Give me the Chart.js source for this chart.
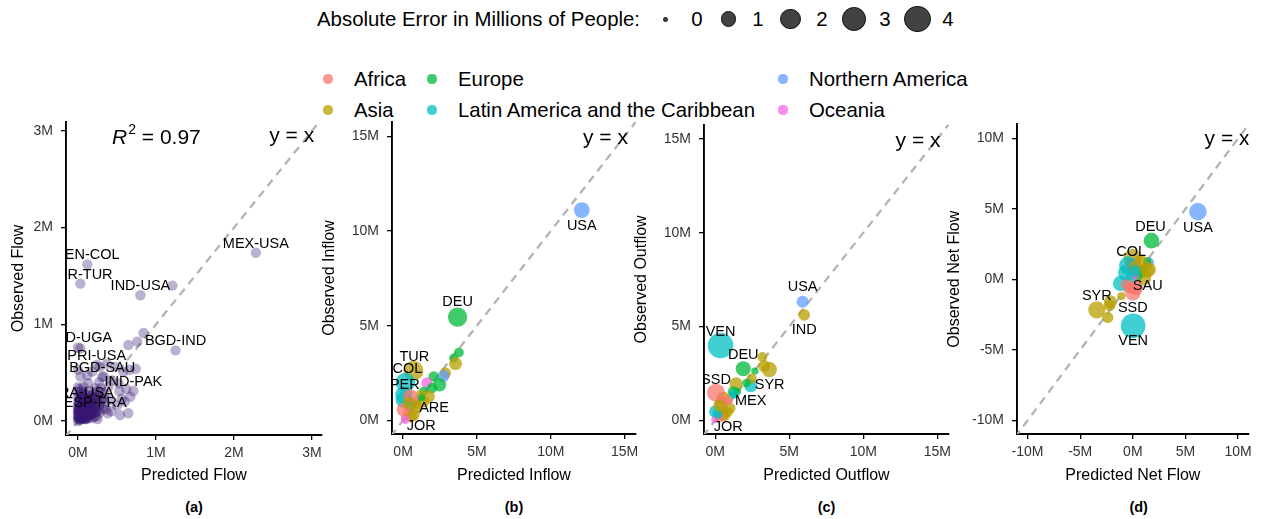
<!DOCTYPE html>
<html>
<head>
<meta charset="utf-8">
<script src="https://cdn.jsdelivr.net/npm/chart.js@4.4.1/dist/chart.umd.min.js"></script>
<style>
  body { margin: 0; width: 1271px; height: 519px; background: #fff; position: relative; overflow: hidden;
         font-family: "Liberation Sans", Arial, sans-serif; }
  canvas { position: absolute; }
  .t { position: absolute; white-space: nowrap; color: #000; }
  .dot { position: absolute; border-radius: 50%; }
</style>
</head>
<body>
<div id="legend"></div>
<canvas id="pa"></canvas>
<canvas id="pb"></canvas>
<canvas id="pc"></canvas>
<canvas id="pd"></canvas>

<script>
// ---- legend data ----
const sizeLegendValues = [0, 1, 2, 3, 4];
const regionNames = ['Africa', 'Asia', 'Europe', 'Latin America and the Caribbean', 'Northern America', 'Oceania'];
const regionKeys = ['AF', 'AS', 'EU', 'LA', 'NA', 'OC'];
const regionColors = ['rgba(248,118,109,0.75)', 'rgba(183,159,0,0.75)', 'rgba(0,186,56,0.75)',
                      'rgba(0,191,196,0.75)', 'rgba(97,156,255,0.75)', 'rgba(245,100,227,0.75)'];

// ---- (a) country-pair flows, millions ----
const flowLabelNames = ['MEX-USA', 'VEN-COL', 'SYR-TUR', 'IND-USA', 'BGD-IND', 'COD-UGA',
                        'PRI-USA', 'BGD-SAU', 'IND-PAK', 'FRA-USA', 'ESP-FRA'];
const flowLabelPred = [2.28, 0.12, 0.03, 0.80, 1.25, 0.00, 0.24, 0.31, 0.71, 0.05, 0.22];
const flowLabelObs  = [1.74, 1.62, 1.42, 1.30, 0.73, 0.76, 0.58, 0.455, 0.31, 0.20, 0.09];
const flowPred = [1.21, 0.84, 0.76, 0.645, 0.03, 0.74, 0.66, 0.58, 0.47, 0.37, 0.28, 0.18, 0.03, 0.00, 0.12,
  0.52, 0.62, 0.53, 0.67, 0.56, 0.54, 0.645, 0.43, 0.32, 0.41, 0.30, 0.22, 0.39, 0.13, 0.07, 0.33, 0.43, 0.50, 0.60, 0.27,
  0.00, 0.01, 0.02, 0.03, 0.04, 0.05, 0.06, 0.07, 0.08, 0.09, 0.10, 0.11, 0.12, 0.13, 0.14, 0.15, 0.16, 0.17, 0.18, 0.19,
  0.20, 0.21, 0.22, 0.23, 0.24, 0.25, 0.26, 0.27, 0.28, 0.30, 0.00, 0.01, 0.02, 0.03, 0.04, 0.05, 0.06, 0.00, 0.01, 0.02,
  0.03, 0.04, 0.05, 0.06, 0.07, 0.08, 0.09, 0.10, 0.11, 0.12, 0.13, 0.14, 0.15, 0.16, 0.17, 0.18, 0.19, 0.20, 0.21, 0.23,
  0.02, 0.04, 0.06, 0.08, 0.10, 0.12, 0.14, 0.16, 0.09, 0.07, 0.05, 0.11, 0.13, 0.15, 0.17, 0.19, 0.21, 0.23, 0.03, 0.01,
  0.00, 0.00, 0.00, 0.00, 0.00, 0.02, 0.06, 0.08, 0.10, 0.12, 0.24, 0.26, 0.28, 0.32, 0.35, 0.34, 0.29, 0.36, 0.38, 0.25];
const flowObs = [1.40, 0.91, 0.82, 0.785, 0.75, 0.54, 0.53, 0.51, 0.56, 0.59, 0.56, 0.51, 0.46, 0.53, 0.47,
  0.39, 0.33, 0.31, 0.25, 0.23, 0.06, 0.08, 0.10, 0.13, 0.22, 0.29, 0.34, 0.355, 0.39, 0.355, 0.46, 0.42, 0.16, 0.20, 0.40,
  0.00, 0.02, 0.01, 0.04, 0.02, 0.06, 0.03, 0.08, 0.05, 0.02, 0.07, 0.10, 0.04, 0.09, 0.12, 0.06, 0.14, 0.10, 0.03, 0.16,
  0.12, 0.08, 0.18, 0.14, 0.05, 0.20, 0.11, 0.16, 0.09, 0.22, 0.05, 0.09, 0.13, 0.17, 0.21, 0.25, 0.29, 0.15, 0.19, 0.23,
  0.27, 0.31, 0.12, 0.16, 0.20, 0.24, 0.28, 0.15, 0.19, 0.23, 0.27, 0.31, 0.18, 0.22, 0.26, 0.20, 0.24, 0.28, 0.25, 0.30,
  0.06, 0.10, 0.11, 0.13, 0.11, 0.14, 0.16, 0.18, 0.09, 0.14, 0.03, 0.06, 0.03, 0.10, 0.06, 0.09, 0.04, 0.10, 0.08, 0.04,
  0.10, 0.20, 0.25, 0.30, 0.35, 0.33, 0.07, 0.17, 0.21, 0.17, 0.24, 0.27, 0.18, 0.24, 0.18, 0.28, 0.34, 0.12, 0.08, 0.02];
// the many small pairs packed near the origin
const flowCorePred = [0.00, 0.01, 0.02, 0.03, 0.04, 0.05, 0.06, 0.07, 0.08, 0.09, 0.10, 0.11, 0.12, 0.13, 0.14,
  0.01, 0.02, 0.03, 0.04, 0.05, 0.06, 0.07, 0.08, 0.09, 0.10, 0.11, 0.12, 0.13, 0.00, 0.02, 0.04, 0.06, 0.08, 0.10,
  0.12, 0.14, 0.03, 0.05, 0.07, 0.09, 0.11, 0.01, 0.03, 0.05, 0.07, 0.09, 0.00, 0.02, 0.04, 0.06, 0.08, 0.10,
  0.15, 0.16, 0.18, 0.20, 0.05, 0.07, 0.09, 0.11];
const flowCoreObs = [0.03, 0.06, 0.09, 0.12, 0.15, 0.18, 0.14, 0.11, 0.08, 0.05, 0.03, 0.13, 0.16, 0.19, 0.07,
  0.14, 0.17, 0.10, 0.07, 0.09, 0.21, 0.04, 0.11, 0.15, 0.18, 0.09, 0.06, 0.12, 0.08, 0.04, 0.05, 0.13, 0.09, 0.13,
  0.10, 0.09, 0.02, 0.10, 0.05, 0.12, 0.15, 0.11, 0.06, 0.15, 0.11, 0.17, 0.12, 0.18, 0.14, 0.19, 0.02, 0.04,
  0.13, 0.08, 0.12, 0.16, 0.08, 0.17, 0.07, 0.02];

// ---- (b) inflow by country, millions ----
const inflowCodes  = ['USA', 'DEU', 'TUR', 'COL', 'PER', '', '', '', '', '', '', '', '', '', '', '', '', '', '',
                      '', '', '', '', '', '', '', '', '', '', 'ARE', 'JOR', ''];
const inflowRegion = ['NA', 'EU', 'AS', 'LA', 'LA', 'EU', 'EU', 'AS', 'AS', 'NA', 'EU', 'EU', 'OC', 'EU', 'EU', 'AS', 'AS',
                      'LA', 'AF', 'AF', 'LA', 'AF', 'AS', 'AS', 'AF', 'AS', 'AF', 'AS', 'EU', 'AS', 'AS', 'OC'];
const inflowPred = [12.1, 3.69, 0.70, 0.16, 0.05, 3.78, 3.42, 3.55, 2.86, 2.74, 2.07, 2.47, 1.62, 1.96, 1.39, 1.73, 1.17,
                    0.04, 0.49, 0.83, 0.49, 0.00, 0.95, 0.72, 0.09, 1.39, 0.30, 0.40, 1.25, 0.95, 0.55, 0.15];
const inflowObs  = [11.1, 5.45, 2.62, 2.00, 1.35, 3.58, 3.29, 3.00, 2.50, 2.34, 2.32, 1.88, 1.97, 1.71, 1.53, 1.26, 1.35,
                    1.09, 1.26, 1.00, 0.74, 0.56, 0.83, 0.30, 0.13, 1.00, 0.45, 0.90, 1.20, 0.65, 0.18, 0.04];

// ---- (c) outflow by country, millions ----
const outflowCodes  = ['USA', 'IND', 'VEN', 'DEU', '', '', '', '', '', '', '', '', '', '', '', '', '', '', '',
                       'SYR', 'SSD', 'MEX', 'JOR', '', '', '', '', ''];
const outflowRegion = ['NA', 'AS', 'LA', 'EU', 'AS', 'AS', 'AS', 'EU', 'LA', 'AS', 'EU', 'AS', 'AF', 'AF', 'AS', 'LA',
                       'OC', 'AF', 'EU', 'AS', 'AF', 'LA', 'AS', 'AS', 'AF', 'LA', 'EU', 'AS'];
const outflowPred = [5.90, 6.01, 0.36, 1.89, 3.18, 3.65, 3.30, 2.68, 2.40, 1.40, 1.22, 0.54, 0.40, 0.54, 0.99, 0.00,
                     0.00, 0.88, 1.50, 2.46, 0.05, 1.25, 0.60, 0.80, 0.30, 0.15, 2.10, 0.30];
const outflowObs  = [6.32, 5.62, 3.99, 2.76, 3.38, 2.71, 2.90, 2.63, 1.85, 1.95, 1.53, 1.18, 0.95, 0.30, 0.65, 0.47,
                     0.07, 1.09, 1.55, 2.23, 1.48, 1.40, 0.25, 0.45, 0.15, 0.35, 2.00, 0.80];

// ---- (d) net flow by country, millions ----
const netCodes  = ['USA', 'DEU', '', '', '', '', '', '', '', '', '', '', '', '', '', '', '', '', '', '', '', '', '',
                   'COL', 'SAU', 'SSD', 'SYR', 'VEN', '', ''];
const netRegion = ['NA', 'EU', 'AS', 'AS', 'AS', 'AS', 'NA', 'EU', 'AS', 'AS', 'AS', 'LA', 'LA', 'LA', 'AF', 'AF', 'AF',
                   'AF', 'AF', 'EU', 'EU', 'AS', 'OC', 'LA', 'AS', 'AF', 'AS', 'LA', 'AS', 'LA'];
const netPred = [6.18, 1.77, -2.13, -2.20, -2.38, -1.08, 1.50, 1.38, 0.72, 1.02, 0.00, -1.17, -0.63, -0.18, -0.03, 0.41,
                 -0.63, 0.27, -0.20, 0.50, 0.90, 1.50, 0.20, -0.45, 1.32, 0.00, -3.42, 0.03, 0.30, 0.20];
const netObs  = [4.81, 2.75, -1.58, -1.85, -2.70, -1.18, 1.20, 1.29, 1.29, 0.11, 1.52, -0.28, 0.47, 0.11, 0.94, 0.70,
                 -0.35, -0.59, -0.60, 0.30, 0.60, 0.70, 0.30, 1.00, 0.63, -0.94, -2.16, -3.29, 0.90, 0.60];

// label offsets in px (placement only)
const inflowLabelOffsets  = { USA: [0, 16], DEU: [0, -15], TUR: [1, -14], COL: [2, -13], PER: [1, -10], ARE: [17, 0], JOR: [10, 9] };
const outflowLabelOffsets = { USA: [0, -15], IND: [0, 15], VEN: [0, -14], DEU: [0, -14], SYR: [18, 6], SSD: [0, -13], MEX: [17, 7], JOR: [4, 11] };
const netLabelOffsets     = { USA: [0, 16], DEU: [-1, -14], COL: [3, -13], SAU: [1, 15], SSD: [0, 15], SYR: [0, -14], VEN: [0, 15] };

const FONT = '"Liberation Sans", Arial, sans-serif';
Chart.defaults.font.family = FONT;

function radiusFor(err) {
  return 2.5 + 5.4 * Math.sqrt(err);
}

// ---- HTML legends ----
const legend = document.getElementById('legend');
function addText(text, left, cy, size, extra) {
  const d = document.createElement('div');
  d.className = 't';
  d.textContent = text;
  d.style.left = left + 'px';
  d.style.top = (cy - size * 0.6) + 'px';
  d.style.fontSize = size + 'px';
  d.style.lineHeight = (size * 1.2) + 'px';
  if (extra) Object.assign(d.style, extra);
  legend.appendChild(d);
  return d;
}
function addDot(cx, cy, r, color, border) {
  const d = document.createElement('div');
  d.className = 'dot';
  d.style.left = (cx - r) + 'px';
  d.style.top = (cy - r) + 'px';
  d.style.width = (2 * r) + 'px';
  d.style.height = (2 * r) + 'px';
  d.style.background = color;
  if (border) { d.style.boxSizing = 'border-box'; d.style.border = border; }
  legend.appendChild(d);
}

addText('Absolute Error in Millions of People:', 317, 19, 20.4);
const sizeKeyX = [665, 728.5, 790.5, 854, 917.5];
const sizeLabelX = [697, 758, 822, 885, 948];
sizeLegendValues.forEach((v, i) => {
  addDot(sizeKeyX[i], 19, radiusFor(v), 'rgba(40,40,40,0.88)', '1px solid #111');
  addText(String(v), sizeLabelX[i], 19, 20.4, { transform: 'translateX(-50%)' });
});

const regionKeyX = [328, 328, 432, 432, 783, 783];
const regionKeyY = [79, 110, 79, 110, 79, 110];
regionNames.forEach((name, i) => {
  addDot(regionKeyX[i], regionKeyY[i], 4.6, regionColors[i]);
  addText(name, regionKeyX[i] + 26, regionKeyY[i], 20.4);
});

['(a)', '(b)', '(c)', '(d)'].forEach((p, i) => {
  addText(p, [194, 514, 826.5, 1138.7][i], 508, 14.5, { transform: 'translateX(-50%)', fontWeight: 'bold' });
});

// ---- text inside the panels ----
const panelText = {
  id: 'panelText',
  afterDatasetsDraw(chart, args, opts) {
    const { ctx, chartArea: a, scales: { x, y } } = chart;
    ctx.save();
    ctx.beginPath();
    ctx.rect(a.left, a.top, a.right - a.left, a.bottom - a.top);
    ctx.clip();
    ctx.fillStyle = '#000';
    ctx.textAlign = 'center';
    ctx.textBaseline = 'middle';
    ctx.font = '14.5px ' + FONT;
    opts.labels.forEach(l => {
      ctx.fillText(l.text, x.getPixelForValue(l.x) + l.dx, y.getPixelForValue(l.y) + l.dy);
    });
    ctx.font = '21px ' + FONT;
    ctx.fillText('y = x', x.getPixelForValue(opts.yx[0]), y.getPixelForValue(opts.yx[1]));
    if (opts.r2) {
      let px = x.getPixelForValue(opts.r2.at[0]);
      const py = y.getPixelForValue(opts.r2.at[1]);
      ctx.textAlign = 'left';
      ctx.font = 'italic 21px ' + FONT;
      ctx.fillText('R', px, py);
      px += ctx.measureText('R').width + 1;
      ctx.font = '14px ' + FONT;
      ctx.fillText('2', px, py - 8);
      px += ctx.measureText('2').width;
      ctx.font = '21px ' + FONT;
      ctx.fillText(' = ' + opts.r2.text, px, py);
    }
    ctx.restore();
  }
};

function countryPoints(pred, obs, regions) {
  return pred.map((p, i) => ({ x: p, y: obs[i], r: regions[i] }));
}
function countryLabels(codes, pred, obs, offsets) {
  const out = [];
  codes.forEach((c, i) => {
    if (c && offsets[c]) out.push({ text: c, x: pred[i], y: obs[i], dx: offsets[c][0], dy: offsets[c][1] });
  });
  return out;
}

function makePanel(p) {
  const canvas = document.getElementById(p.id);
  canvas.width = p.box.width;
  canvas.height = p.box.height;
  canvas.style.left = p.box.left + 'px';
  canvas.style.top = p.box.top + 'px';
  canvas.style.width = p.box.width + 'px';
  canvas.style.height = p.box.height + 'px';

  const axis = (range, ticks, title, isX) => ({
    type: 'linear',
    min: range[0],
    max: range[1],
    bounds: 'data',
    afterBuildTicks: s => { s.ticks = ticks.map(v => ({ value: v })); },
    afterFit: s => {
      if (isX) { s.height = p.box.xh; s.paddingLeft = 0; s.paddingRight = 0; }
      else { s.width = p.box.yw; s.paddingTop = 0; s.paddingBottom = 0; }
    },
    grid: { drawOnChartArea: false, drawTicks: true, tickLength: 5, color: '#000', lineWidth: 1.3 },
    border: { display: true, color: '#000', width: 1.9 },
    ticks: { color: '#333', font: { size: 14 }, padding: isX ? 5 : 8, autoSkip: false, maxRotation: 0,
             callback: v => v + 'M' },
    title: { display: true, text: title, color: '#000', font: { size: 16 },
             padding: isX ? { top: 0, bottom: 9.7 } : { top: p.yTitlePad, bottom: 0 } }
  });

  return new Chart(canvas, {
    type: 'scatter',
    data: {
      datasets: [
        {
          data: p.points,
          backgroundColor: p.points.map(pt => p.color || regionColors[regionKeys.indexOf(pt.r)]),
          borderWidth: 0,
          pointRadius: p.points.map(pt => p.fixedRadius || radiusFor(Math.abs(pt.x - pt.y))),
          pointHoverRadius: p.points.map(pt => p.fixedRadius || radiusFor(Math.abs(pt.x - pt.y))),
          clip: 0,
          order: 1
        },
        {
          data: [{ x: p.diag[0], y: p.diag[0] }, { x: p.diag[1], y: p.diag[1] }],
          showLine: true,
          borderColor: '#b3b3b3',
          borderWidth: 2.3,
          borderDash: [8, 6],
          pointRadius: 0,
          clip: 0,
          order: 2
        }
      ]
    },
    options: {
      responsive: false,
      animation: false,
      devicePixelRatio: 1,
      events: [],
      layout: { padding: { top: 10, right: p.box.padRight, bottom: 0, left: 0 } },
      scales: {
        x: axis(p.xRange, p.xTicks, p.xTitle, true),
        y: axis(p.yRange, p.yTicks, p.yTitle, false)
      },
      plugins: {
        legend: { display: false },
        tooltip: { enabled: false },
        panelText: { labels: p.labels, yx: p.yx, r2: p.r2 }
      }
    },
    plugins: [panelText]
  });
}

// panel (a)
const flowPoints = flowPred.map((v, i) => ({ x: v, y: flowObs[i] }))
  .concat(flowCorePred.map((v, i) => ({ x: v, y: flowCoreObs[i] })))
  .concat(flowLabelPred.map((v, i) => ({ x: v, y: flowLabelObs[i] })));
makePanel({
  id: 'pa',
  box: { left: 0, top: 112, width: 335, height: 383, yw: 66, xh: 60, padRight: 13 },
  yTitlePad: 8.5,
  xRange: [-0.154, 3.128], yRange: [-0.145, 3.092],
  xTicks: [0, 1, 2, 3], yTicks: [0, 1, 2, 3],
  xTitle: 'Predicted Flow', yTitle: 'Observed Flow',
  points: flowPoints,
  color: 'rgba(55,22,115,0.34)',
  fixedRadius: 5.2,
  diag: [-0.5, 3.5],
  labels: flowLabelNames.map((n, i) => ({ text: n, x: flowLabelPred[i], y: flowLabelObs[i], dx: 0, dy: -9 })),
  yx: [2.74, 2.94],
  r2: { at: [0.436, 2.92], text: '0.97' }
});

// panel (b)
makePanel({
  id: 'pb',
  box: { left: 312, top: 112, width: 338, height: 383, yw: 80, xh: 61, padRight: 14 },
  yTitlePad: 8,
  xRange: [-0.75, 15.77], yRange: [-0.72, 15.75],
  xTicks: [0, 5, 10, 15], yTicks: [0, 5, 10, 15],
  xTitle: 'Predicted Inflow', yTitle: 'Observed Inflow',
  points: countryPoints(inflowPred, inflowObs, inflowRegion),
  diag: [-2, 17],
  labels: countryLabels(inflowCodes, inflowPred, inflowObs, inflowLabelOffsets),
  yx: [13.7, 14.9]
});

// panel (c)
makePanel({
  id: 'pc',
  box: { left: 625, top: 112, width: 337, height: 383, yw: 79, xh: 61, padRight: 13 },
  yTitlePad: 7.4,
  xRange: [-0.76, 15.79], yRange: [-0.72, 15.75],
  xTicks: [0, 5, 10, 15], yTicks: [0, 5, 10, 15],
  xTitle: 'Predicted Outflow', yTitle: 'Observed Outflow',
  points: countryPoints(outflowPred, outflowObs, outflowRegion),
  diag: [-2, 17],
  labels: countryLabels(outflowCodes, outflowPred, outflowObs, outflowLabelOffsets),
  yx: [13.7, 14.9]
});

// panel (d)
makePanel({
  id: 'pd',
  box: { left: 937, top: 112, width: 324, height: 383, yw: 80, xh: 61, padRight: 0 },
  yTitlePad: 8,
  xRange: [-11, 11], yRange: [-10.96, 11],
  xTicks: [-10, -5, 0, 5, 10], yTicks: [-10, -5, 0, 5, 10],
  xTitle: 'Predicted Net Flow', yTitle: 'Observed Net Flow',
  points: countryPoints(netPred, netObs, netRegion),
  diag: [-12, 12],
  labels: countryLabels(netCodes, netPred, netObs, netLabelOffsets),
  yx: [8.95, 9.95]
});
</script>
</body>
</html>
